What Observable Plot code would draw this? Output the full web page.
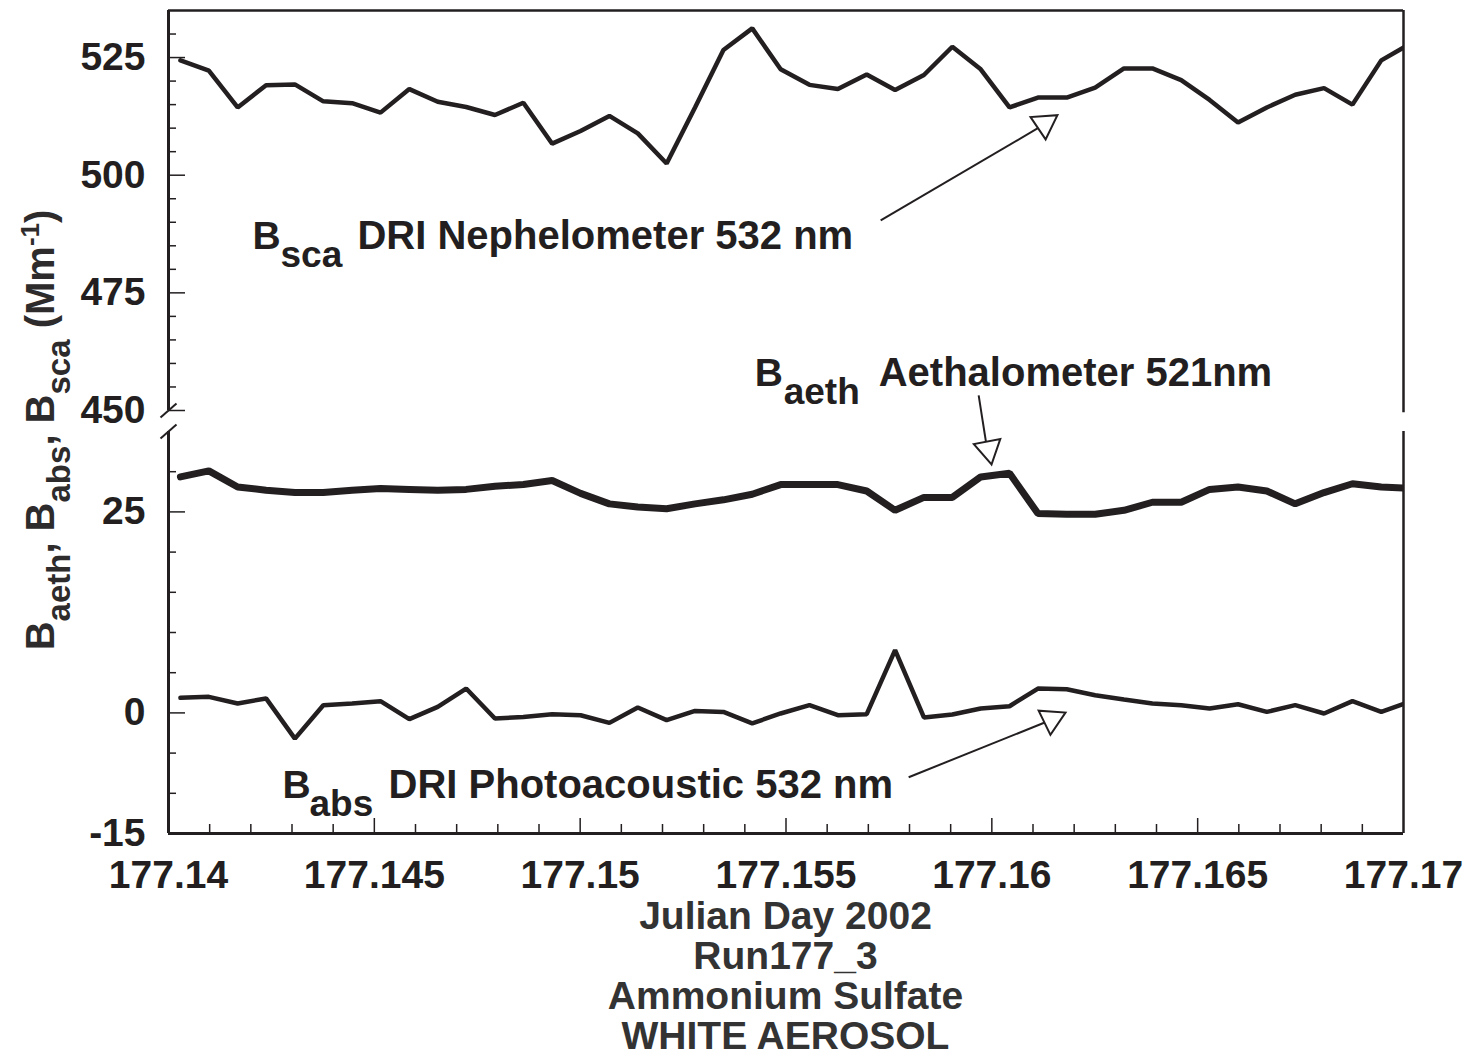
<!DOCTYPE html>
<html>
<head>
<meta charset="utf-8">
<script src="https://cdn.jsdelivr.net/npm/d3@7"></script>
<script src="https://cdn.jsdelivr.net/npm/@observablehq/plot@0.6"></script>
<style>
  html, body { margin: 0; padding: 0; background: #fff; }
  #chart { position: relative; width: 1469px; height: 1057px; font-family: "Liberation Sans", Arial, Helvetica, sans-serif; color: #231f20; }
  #chart > svg { position: absolute; left: 0; top: 0; overflow: visible; }
  .caption { position: absolute; left: 168px; width: 1235px; top: 896px; text-align: center; font-weight: bold; font-size: 39px; line-height: 40px; color: #333; }
</style>
</head>
<body>
<div id="chart"></div>
<script>
// Julian day 2002 of each one-minute sample
const times = [
  177.14029, 177.14098, 177.14168, 177.14237, 177.14307, 177.14376, 177.14446, 177.14515,
  177.14585, 177.14654, 177.14723, 177.14793, 177.14862, 177.14932, 177.15001, 177.15071,
  177.15140, 177.15210, 177.15279, 177.15348, 177.15418, 177.15487, 177.15557, 177.15626,
  177.15696, 177.15765, 177.15835, 177.15904, 177.15973, 177.16043, 177.16112, 177.16182,
  177.16251, 177.16321, 177.16390, 177.16460, 177.16529, 177.16598, 177.16668, 177.16737,
  177.16807, 177.16876, 177.16946, 177.17015
];
// Scattering, DRI nephelometer 532 nm (Mm^-1)
const bsca = [
  524.4, 522.2, 514.4, 519.1, 519.3, 515.7, 515.3, 513.3, 518.3, 515.6, 514.5,
  512.8, 515.4, 506.7, 509.4, 512.6, 508.9, 502.5, 514.4, 526.6, 531.2, 522.5,
  519.2, 518.3, 521.4, 518.1, 521.3, 527.3, 522.5, 514.4, 516.5, 516.5, 518.6,
  522.7, 522.7, 520.2, 516.0, 511.2, 514.4, 517.1, 518.5, 515.0, 524.4, 527.9
];
// Aethalometer 521 nm (Mm^-1)
const baeth = [
  29.35, 30.1, 28.1, 27.7, 27.4, 27.4, 27.7, 27.9, 27.8, 27.7, 27.8,
  28.2, 28.4, 28.9, 27.3, 26.0, 25.6, 25.4, 26.0, 26.5, 27.2, 28.4,
  28.4, 28.4, 27.6, 25.2, 26.8, 26.8, 29.35, 29.8, 24.8, 24.7, 24.7,
  25.2, 26.2, 26.2, 27.8, 28.1, 27.6, 26.0, 27.4, 28.5, 28.1, 27.95
];
// Absorption, DRI photoacoustic 532 nm (Mm^-1)
const babs = [
  1.87, 2.0, 1.17, 1.8, -3.2, 0.96, 1.17, 1.46, -0.78, 0.75, 3.03,
  -0.7, -0.5, -0.16, -0.29, -1.24, 0.67, -0.9, 0.25, 0.12, -1.3, -0.07,
  0.96, -0.29, -0.16, 7.8, -0.57, -0.2, 0.55, 0.83, 3.03, 2.95, 2.2,
  1.67, 1.17, 0.96, 0.55, 1.08, 0.12, 0.96, -0.07, 1.46, 0.12, 1.4
];

// Axis ranges and tick labels
const xDomain = [177.14, 177.17];
const xTickValues = [177.14, 177.145, 177.15, 177.155, 177.16, 177.165, 177.17];
const xTickLabels = ["177.14", "177.145", "177.15", "177.155", "177.16", "177.165", "177.17"];
const topDomain = [450, 535];
const topTickLabels = [450, 475, 500, 525];
const bottomDomain = [-15, 35];
const bottomTickLabels = [-15, 0, 25];
const captionLines = ["Julian Day 2002", "Run177_3", "Ammonium Sulfate", "WHITE AEROSOL"];

// Series annotations (data coordinates of the leading "B" baseline)
const notesTop = [{x: 177.14204, y: 484.4, base: "B", sub: "sca", rest: "DRI Nephelometer 532 nm"}];
const notesBottom = [
  {x: 177.15424, y: 40.6, base: "B", sub: "aeth", rest: "Aethalometer 521nm"},
  {x: 177.14277, y: -10.6, base: "B", sub: "abs", rest: "DRI Photoacoustic 532 nm"}
];
// Pointer arrows: shaft start, shaft end, head centre, head rotation
const arrowsTop = [{x1: 177.15730, y1: 490.4, x2: 177.16118, y2: 510.3, hx: 177.16128, hy: 510.9, rot: 176}];
const arrowsBottom = [
  {x1: 177.15968, y1: 39.5, x2: 177.15987, y2: 33.3, hx: 177.15992, hy: 32.8, rot: 169},
  {x1: 177.15798, y1: -8.0, x2: 177.16133, y2: -1.1, hx: 177.16145, hy: -0.8, rot: 184}
];

const ink = "#231f20";
const font = '"Liberation Sans", Arial, Helvetica, sans-serif';
const W = 1469, mL = 168, mR = 66;
const pxPerX = (W - mL - mR) / (xDomain[1] - xDomain[0]);

const rows = times.map((t, i) => ({t, bsca: bsca[i], baeth: baeth[i], babs: babs[i]}));

const svgStyle = {background: "transparent", color: ink, fontFamily: font, overflow: "visible"};

function steps(lo, hi, step, skip) {
  return d3.range(Math.round((hi - lo) / step) + 1).map(i => +(lo + i * step).toFixed(6)).filter(v => !skip.includes(v));
}

// label pieces: "B", lowered subscript, then the rest of the text
const subDx = {sca: 28, aeth: 29, abs: 27};
const restDx = {sca: 105, aeth: 124, abs: 106};
function noteMarks(notes) {
  return notes.flatMap(n => [
    Plot.text([n], {x: "x", y: "y", text: "base", textAnchor: "start", lineAnchor: "bottom",
      fontSize: 39, fontWeight: "bold", fontFamily: font, fill: ink}),
    Plot.text([n], {x: "x", y: "y", text: "sub", textAnchor: "start", lineAnchor: "bottom",
      dx: subDx[n.sub], dy: 18, fontSize: 37, fontWeight: "bold", fontFamily: font, fill: ink}),
    Plot.text([n], {x: "x", y: "y", text: "rest", textAnchor: "start", lineAnchor: "bottom",
      dx: restDx[n.sub], fontSize: 40, fontWeight: "bold", fontFamily: font, fill: ink})
  ]);
}
function arrowMarks(arrows) {
  return [
    Plot.link(arrows, {x1: "x1", y1: "y1", x2: "x2", y2: "y2", stroke: ink, strokeWidth: 2}),
    Plot.dot(arrows, {x: "hx", y: "hy", symbol: "triangle", r: 10, rotate: "rot",
      fill: "white", stroke: ink, strokeWidth: 2})
  ];
}
// small slash marking the axis break
function breakSlash(yv, pxPerY) {
  return Plot.link([0], {
    x1: () => xDomain[0] - 8 / pxPerX, x2: () => xDomain[0] + 8 / pxPerX,
    y1: () => yv - 7 / pxPerY, y2: () => yv + 7 / pxPerY,
    stroke: ink, strokeWidth: 2
  });
}

// ---------- upper panel: scattering ----------
const topPxPerY = 400 / (topDomain[1] - topDomain[0]);
const topChart = Plot.plot({
  width: W, height: 420,
  marginLeft: mL, marginRight: mR, marginTop: 10, marginBottom: 10,
  style: svgStyle,
  x: {domain: xDomain, axis: null},
  y: {domain: topDomain},
  marks: [
    Plot.axisY({ticks: steps(450, 530, 5, topTickLabels), tickSize: -8, tickFormat: () => "", strokeWidth: 1.5}),
    Plot.axisY({ticks: topTickLabels, tickSize: -17, tickFormat: () => "", strokeWidth: 1.5}),
    Plot.axisY({ticks: topTickLabels, tickSize: 0, tickPadding: 23, tickFormat: d => String(d),
      fontSize: 39, fontWeight: "bold", fontFamily: font, fill: ink, label: null}),
    Plot.ruleX([xDomain[0]], {stroke: ink, strokeWidth: 3}),
    Plot.ruleX([xDomain[1]], {stroke: ink, strokeWidth: 2.5, y1: topDomain[0] - 0.5, y2: topDomain[1]}),
    Plot.ruleY([topDomain[1]], {stroke: ink, strokeWidth: 2.5}),
    breakSlash(topDomain[0], topPxPerY),
    Plot.line(rows, {x: "t", y: "bsca", stroke: ink, strokeWidth: 4.5, strokeLinejoin: "miter", clip: true}),
    ...noteMarks(notesTop),
    ...arrowMarks(arrowsTop)
  ]
});

// ---------- lower panel: aethalometer and photoacoustic ----------
const botPxPerY = 402 / (bottomDomain[1] - bottomDomain[0]);
const bottomChart = Plot.plot({
  width: W, height: 900,
  marginLeft: mL, marginRight: mR, marginTop: 431, marginBottom: 67,
  style: svgStyle,
  x: {domain: xDomain},
  y: {domain: bottomDomain},
  marks: [
    Plot.axisY({ticks: steps(-10, 30, 5, [0, 25]), tickSize: -8, tickFormat: () => "", strokeWidth: 1.5}),
    Plot.axisY({ticks: [0, 25], tickSize: -17, tickFormat: () => "", strokeWidth: 1.5}),
    Plot.axisY({ticks: bottomTickLabels, tickSize: 0, tickPadding: 23, tickFormat: d => String(d),
      fontSize: 39, fontWeight: "bold", fontFamily: font, fill: ink, label: null}),
    Plot.axisX({ticks: steps(177.141, 177.169, 0.001, xTickValues), tickSize: -9, tickFormat: () => "", strokeWidth: 1.5}),
    Plot.axisX({ticks: xTickValues.slice(1, -1), tickSize: -15, tickFormat: () => "", strokeWidth: 1.5}),
    Plot.axisX({ticks: xTickValues, tickSize: 0, tickPadding: 27,
      tickFormat: d => xTickLabels[xTickValues.indexOf(d)],
      fontSize: 39, fontWeight: "bold", fontFamily: font, fill: ink, label: null}),
    Plot.ruleX([xDomain[0]], {stroke: ink, strokeWidth: 3}),
    Plot.ruleX([xDomain[1]], {stroke: ink, strokeWidth: 2.5}),
    Plot.ruleY([bottomDomain[0]], {stroke: ink, strokeWidth: 3}),
    breakSlash(bottomDomain[1], botPxPerY),
    Plot.line(rows, {x: "t", y: "baeth", stroke: ink, strokeWidth: 7, strokeLinejoin: "miter", clip: true}),
    Plot.line(rows, {x: "t", y: "babs", stroke: ink, strokeWidth: 4.5, strokeLinejoin: "miter", clip: true}),
    ...noteMarks(notesBottom),
    ...arrowMarks(arrowsBottom)
  ]
});

const chart = document.getElementById("chart");
chart.appendChild(topChart);
chart.appendChild(bottomChart);

// shared y-axis title spanning both panels
const yTitleParts = [
  {text: "B", dy: 0, size: 40}, {text: "aeth", dy: 16, size: 33},
  {text: ", B", dy: -16, size: 40}, {text: "abs", dy: 16, size: 33},
  {text: ", B", dy: -16, size: 40}, {text: "sca", dy: 16, size: 33},
  {text: " (Mm", dy: -16, size: 40}, {text: "-1", dy: -15, size: 26},
  {text: ")", dy: 15, size: 40}
];
const ySvg = d3.create("svg").attr("width", 120).attr("height", 1057);
const yText = ySvg.append("text")
  .attr("transform", "translate(54,430) rotate(-90)")
  .attr("text-anchor", "middle")
  .attr("font-family", font).attr("font-weight", "bold")
  .attr("fill", "#2e2b2c").style("white-space", "pre");
yTitleParts.forEach(p => yText.append("tspan").attr("font-size", p.size).attr("dy", p.dy).text(p.text));
chart.appendChild(ySvg.node());

// caption under the x axis
const cap = document.createElement("div");
cap.className = "caption";
captionLines.forEach(line => {
  const d = document.createElement("div");
  d.textContent = line;
  cap.appendChild(d);
});
chart.appendChild(cap);
</script>
</body>
</html>
